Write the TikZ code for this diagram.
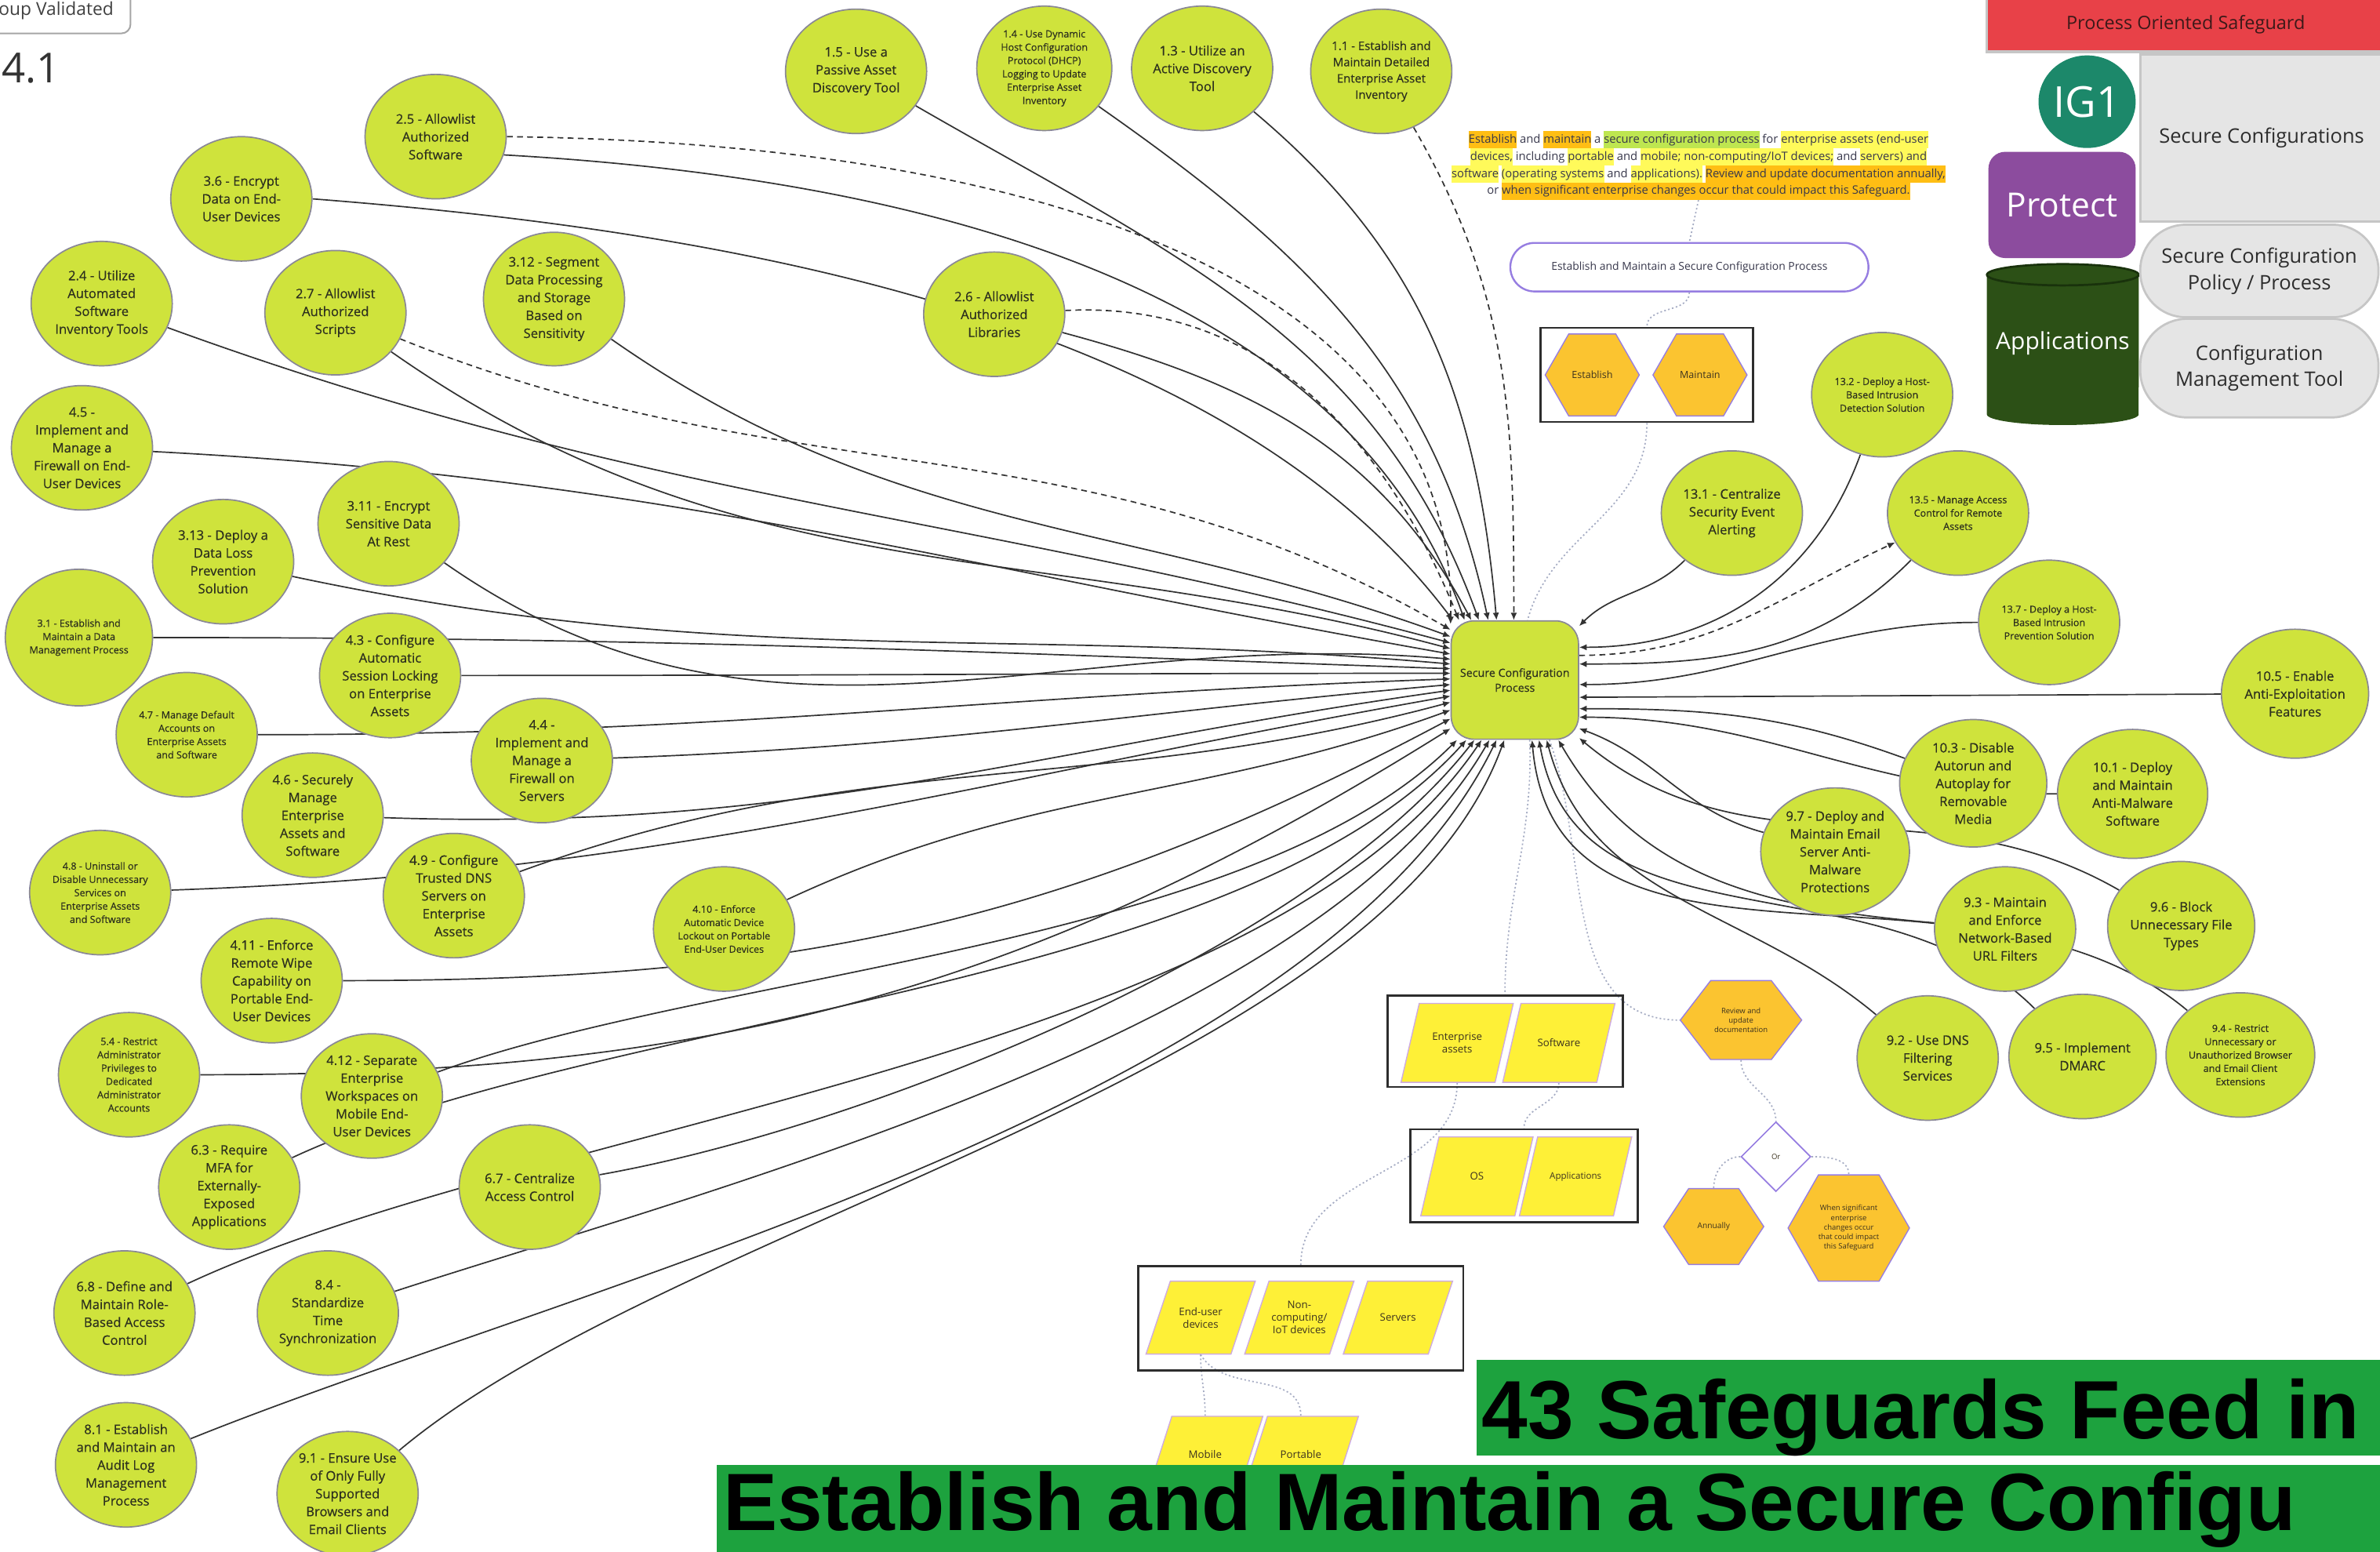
\documentclass[tikz,border=0pt]{standalone}
\usepackage{fontspec}
\setmainfont{Open Sans}
\newfontfamily\sgfont{Open Sans}[FakeBold=0.45]
\newfontfamily\bannerfont{Liberation Sans}
\usetikzlibrary{shapes.geometric,arrows.meta}
\pgfdeclarelayer{bg}
\pgfsetlayers{bg,main}

\definecolor{sg}{RGB}{207,227,60}
\definecolor{sgborder}{RGB}{138,136,150}
\definecolor{sgtext}{RGB}{45,48,30}
\definecolor{ln}{RGB}{50,50,50}
\definecolor{hexfill}{RGB}{251,196,48}
\definecolor{hextext}{RGB}{60,50,30}
\definecolor{parafill}{RGB}{254,240,55}
\definecolor{parab}{RGB}{205,170,225}
\definecolor{lpurple}{RGB}{150,125,225}
\definecolor{dotc}{RGB}{165,172,195}
\definecolor{boxline}{RGB}{45,45,45}
\definecolor{bannergreen}{RGB}{29,162,62}
\definecolor{redbox}{RGB}{232,65,72}
\definecolor{redtext}{RGB}{60,25,25}
\definecolor{igc}{RGB}{28,136,106}
\definecolor{protc}{RGB}{140,76,158}
\definecolor{appg}{RGB}{44,80,22}
\definecolor{appdark}{RGB}{25,50,12}
\definecolor{greyfill}{RGB}{229,229,229}
\definecolor{greyline}{RGB}{198,198,198}
\definecolor{paneltext}{RGB}{45,45,45}
\definecolor{hlo}{RGB}{255,190,20}
\definecolor{hly}{RGB}{255,250,90}
\definecolor{hlg}{RGB}{190,230,80}
\definecolor{txt}{RGB}{55,55,75}

\newcommand\hO[1]{{\fboxsep=0pt\colorbox{hlo}{\strut #1}}}
\newcommand\hY[1]{{\fboxsep=0pt\colorbox{hly}{\strut #1}}}
\newcommand\hG[1]{{\fboxsep=0pt\colorbox{hlg}{\strut #1}}}
\newcommand\pfont{\fontsize{3.9}{4.7}\selectfont}

\tikzset{
  sgnode/.style={ellipse, draw=sgborder, line width=0.5pt, fill=sg, minimum width=1.86cm, minimum height=1.64cm, inner sep=-3pt, align=center, text=sgtext, font=\sgfont\fontsize{4.9}{6.7}\selectfont},
  sgsmall/.style={sgnode, font=\sgfont\fontsize{3.7}{5}\selectfont},
  sgmid/.style={sgnode, font=\sgfont\fontsize{4.4}{6.1}\selectfont},
  cpnode/.style={rectangle, rounded corners=0.3cm, draw=sgborder, line width=0.5pt, fill=sg, minimum width=1.64cm, minimum height=1.56cm, align=center, text=sgtext, font=\sgfont\fontsize{4.2}{5.6}\selectfont},
  conn/.style={draw=ln, line width=0.5pt, -{Latex[length=2.8pt,width=2.4pt]}},
  dconn/.style={conn, dash pattern=on 2.2pt off 1.6pt},
  dotl/.style={draw=dotc, line width=0.5pt, dash pattern=on 0.6pt off 0.9pt},
  hexsty/.style={fill=hexfill, draw=lpurple, line width=0.4pt},
  parasty/.style={fill=parafill, draw=parab, line width=0.4pt},
  grpbox/.style={rectangle, draw=boxline, line width=0.8pt, inner sep=0pt},
  greypanel/.style={fill=greyfill, draw=greyline, line width=0.8pt, align=center, text=paneltext, font=\fontsize{7.5}{9.9}\selectfont}
}

\newcommand\hexnode[7]{%
  \draw[hexsty] (#2-#4,#3) -- (#2-#4/2,#3-#5) -- (#2+#4/2,#3-#5) -- (#2+#4,#3) -- (#2+#4/2,#3+#5) -- (#2-#4/2,#3+#5) -- cycle;
  \node[inner sep=0pt, minimum width=#4*0.04cm, minimum height=#5*0.04cm, align=center, text=hextext, font=#6] (#1) at (#2,#3) {#7};}
\newcommand\paranode[8]{%
  \draw[parasty] (#2-#4+#6,#3-#5) -- (#2+#4+#6,#3-#5) -- (#2+#4-#6,#3+#5) -- (#2-#4-#6,#3+#5) -- cycle;
  \node[inner sep=0pt, minimum width=#4*0.04cm, minimum height=#5*0.04cm, align=center, text=hextext, font=#7] (#1) at (#2,#3) {#8};}

\begin{document}
\begin{tikzpicture}[x=0.02cm,y=-0.02cm]
\useasboundingbox (0,0) rectangle (1568,1022);
\clip (0,0) rectangle (1568,1022);
\begin{pgfonlayer}{bg}
\fill[white] (0,0) rectangle (1568,1022);
\end{pgfonlayer}

% header
\node[rectangle, rounded corners=0.12cm, draw=gray!70, line width=0.6pt, fill=white, minimum width=1.96cm, minimum height=0.6cm, font=\fontsize{6.7}{8}\selectfont, text=black!75] (grp) at (37,7) {oup Validated};
\node[font=\fontsize{15.5}{16}\selectfont, text=black!80, anchor=west, inner sep=0pt] (num) at (1,45) {4.1};

% central node
\node[cpnode] (cp) at (998,448) {Secure Configuration\\Process};

% safeguards (left / top)
\node[sgnode] (s15) at (564,47) {1.5 - Use a\\Passive Asset\\Discovery Tool};
\node[sgsmall, minimum width=1.78cm] (s14) at (688,45) {1.4 - Use Dynamic\\Host Configuration\\Protocol (DHCP)\\Logging to Update\\Enterprise Asset\\Inventory};
\node[sgnode] (s13) at (792,45) {1.3 - Utilize an\\Active Discovery\\Tool};
\node[sgmid] (s11) at (910,47) {1.1 - Establish and\\Maintain Detailed\\Enterprise Asset\\Inventory};
\node[sgnode] (s25) at (287,90) {2.5 - Allowlist\\Authorized\\Software};
\node[sgnode] (s36) at (159,131) {3.6 - Encrypt\\Data on End-\\User Devices};
\node[sgnode] (s24) at (67,200) {2.4 - Utilize\\Automated\\Software\\Inventory Tools};
\node[sgnode] (s27) at (221,206) {2.7 - Allowlist\\Authorized\\Scripts};
\node[sgnode, minimum height=1.76cm] (s312) at (365,197) {3.12 - Segment\\Data Processing\\and Storage\\Based on\\Sensitivity};
\node[sgnode] (s26) at (655,207) {2.6 - Allowlist\\Authorized\\Libraries};
\node[sgnode] (s45) at (54,295) {4.5 -\\Implement and\\Manage a\\Firewall on End-\\User Devices};
\node[sgnode] (s311) at (256,345) {3.11 - Encrypt\\Sensitive Data\\At Rest};
\node[sgnode] (s313) at (147,370) {3.13 - Deploy a\\Data Loss\\Prevention\\Solution};
\node[sgsmall, minimum width=1.94cm, minimum height=1.8cm] (s31) at (52,420) {3.1 - Establish and\\Maintain a Data\\Management Process};
\node[sgnode] (s43) at (257,445) {4.3 -  Configure\\Automatic\\Session Locking\\on Enterprise\\Assets};
\node[sgsmall] (s47) at (123,484) {4.7 -  Manage Default\\Accounts on\\Enterprise Assets\\and Software};
\node[sgnode] (s44) at (357,501) {4.4 -\\Implement and\\Manage a\\Firewall on\\Servers};
\node[sgnode] (s46) at (206,537) {4.6 -  Securely\\Manage\\Enterprise\\Assets and\\Software};
\node[sgsmall] (s48) at (66,588) {4.8 -  Uninstall or\\Disable Unnecessary\\Services on\\Enterprise Assets\\and Software};
\node[sgnode] (s49) at (299,590) {4.9 -  Configure\\Trusted DNS\\Servers on\\Enterprise\\Assets};
\node[sgsmall] (s410) at (477,612) {4.10 -  Enforce\\Automatic Device\\Lockout on Portable\\End-User Devices};
\node[sgnode] (s411) at (179,646) {4.11 -  Enforce\\Remote Wipe\\Capability on\\Portable End-\\User Devices};
\node[sgsmall] (s54) at (85,708) {5.4 - Restrict\\Administrator\\Privileges to\\Dedicated\\Administrator\\Accounts};
\node[sgnode] (s412) at (245,722) {4.12 -  Separate\\Enterprise\\Workspaces on\\Mobile End-\\User Devices};
\node[sgnode] (s63) at (151,782) {6.3 - Require\\MFA for\\Externally-\\Exposed\\Applications};
\node[sgnode] (s67) at (349,782) {6.7 - Centralize\\Access Control};
\node[sgnode] (s68) at (82,865) {6.8 - Define and\\Maintain Role-\\Based Access\\Control};
\node[sgnode] (s84) at (216,865) {8.4 -\\Standardize\\Time\\Synchronization};
\node[sgnode] (s81) at (83,965) {8.1 - Establish\\and Maintain an\\Audit Log\\Management\\Process};
\node[sgnode] (s91) at (229,984) {9.1 - Ensure Use\\of Only Fully\\Supported\\Browsers and\\Email Clients};

% safeguards (right)
\node[sgsmall] (s132) at (1240,260) {13.2 - Deploy a Host-\\Based Intrusion\\Detection Solution};
\node[sgnode] (s131) at (1141,338) {13.1 - Centralize\\Security Event\\Alerting};
\node[sgsmall] (s135) at (1290,338) {13.5 - Manage Access\\Control for Remote\\Assets};
\node[sgsmall] (s137) at (1350,410) {13.7 - Deploy a Host-\\Based Intrusion\\Prevention Solution};
\node[sgnode, minimum width=1.94cm, minimum height=1.7cm] (s105) at (1512,457) {10.5 - Enable\\Anti-Exploitation\\Features};
\node[sgnode, minimum width=1.94cm, minimum height=1.68cm] (s103) at (1300,516) {10.3 - Disable\\Autorun and\\Autoplay for\\Removable\\Media};
\node[sgnode, minimum width=1.98cm, minimum height=1.7cm] (s101) at (1405,523) {10.1 - Deploy\\and Maintain\\Anti-Malware\\Software};
\node[sgnode, minimum width=1.96cm, minimum height=1.68cm] (s97) at (1209,561) {9.7 - Deploy and\\Maintain Email\\Server Anti-\\Malware\\Protections};
\node[sgnode] (s93) at (1321,612) {9.3 - Maintain\\and Enforce\\Network-Based\\URL Filters};
\node[sgnode, minimum width=1.94cm, minimum height=1.7cm] (s96) at (1437,610) {9.6 - Block\\Unnecessary File\\Types};
\node[sgnode] (s92) at (1270,697) {9.2 - Use DNS\\Filtering\\Services};
\node[sgnode, minimum width=1.94cm] (s95) at (1372,696) {9.5 - Implement\\DMARC};
\node[sgsmall, minimum width=1.96cm] (s94) at (1476,695) {9.4 - Restrict\\Unnecessary or\\Unauthorized Browser\\and Email Client\\Extensions};

% definition text and process boxes
\node[font=\fontsize{4.35}{6.4}\selectfont, text=txt, align=center, inner sep=0pt] (deftext) at (1119,109) {\hO{Establish} and \hO{maintain} a \hG{secure configuration process} for \hY{enterprise assets (end-user}\\ \hY{devices,} including \hY{portable} and \hY{mobile; non-computing/IoT devices;} and \hY{servers) and}\\ \hY{software} \hY{(operating systems} and \hY{applications).} \hO{Review and update documentation annually,}\\ or \hO{when significant enterprise changes occur that could impact this Safeguard.}};
\node[rectangle, rounded corners=0.32cm, draw=lpurple, line width=0.7pt, fill=white, minimum width=4.72cm, minimum height=0.64cm, font=\fontsize{4.1}{5}\selectfont, text=txt] (stad) at (1113,176) {Establish and Maintain a Secure Configuration Process};
\node[grpbox, minimum width=2.8cm, minimum height=1.24cm] (hexbox) at (1085,247) {};
\hexnode{hexE}{1049}{247}{31}{27}{\fontsize{3.7}{4.5}\selectfont}{Establish}
\hexnode{hexM}{1120}{247}{31}{27}{\fontsize{3.7}{4.5}\selectfont}{Maintain}

% asset boxes
\node[grpbox, minimum width=3.1cm, minimum height=1.2cm] (b1) at (991.5,686) {};
\node[grpbox, minimum width=3.0cm, minimum height=1.22cm] (b2) at (1004,774.5) {};
\node[grpbox, minimum width=4.28cm, minimum height=1.38cm] (b3) at (857,868.5) {};
\paranode{ea}{960}{687}{31}{26}{6}{\pfont}{Enterprise\\assets}
\paranode{sw}{1027}{687}{31}{26}{6}{\pfont}{Software}
\paranode{os}{973}{775}{31}{26}{6}{\pfont}{OS}
\paranode{appl}{1038}{775}{31}{26}{6}{\fontsize{3.4}{4}\selectfont}{Applications}
\paranode{eud}{791}{868}{28}{24}{8}{\pfont}{End-user\\devices}
\paranode{nci}{856}{868}{28}{24}{8}{\pfont}{Non-\\computing/\\IoT devices}
\paranode{srv}{921}{868}{28}{24}{8}{\pfont}{Servers}
\paranode{mob}{794}{958}{30}{25}{8}{\pfont}{Mobile}
\paranode{port}{857}{958}{30}{25}{8}{\pfont}{Portable}

% review logic
\hexnode{rev}{1147}{672}{40}{26}{\fontsize{2.8}{3.6}\selectfont}{Review and\\update\\documentation}
\node[diamond, draw=lpurple, line width=0.5pt, fill=white, minimum width=0.92cm, minimum height=0.92cm, inner sep=0pt, text=hextext, font=\fontsize{2.8}{3}\selectfont] (ornode) at (1170,762) {Or};
\hexnode{ann}{1129}{808}{33}{25}{\fontsize{3}{3.6}\selectfont}{Annually}
\hexnode{when}{1218}{809}{40}{35}{\fontsize{2.8}{3.6}\selectfont}{When significant\\enterprise\\changes occur\\that could impact\\this Safeguard}

% right panel
\node[rectangle, fill=redbox, draw=greyline, line width=1pt, minimum width=5.24cm, minimum height=0.72cm, inner sep=0pt, font=\fontsize{6.9}{8}\selectfont, text=redtext] (pos) at (1440,16) {Process Oriented Safeguard};
\node[ellipse, fill=igc, minimum width=1.28cm, minimum height=1.22cm, inner sep=0pt, text=white, font=\fontsize{16}{16}\selectfont] (ig1) at (1375,67) {IG1};
\node[greypanel, rectangle, minimum width=3.2cm, minimum height=2.2cm] (scfg) at (1490,91) {Secure Configurations};
\node[rectangle, rounded corners=0.22cm, fill=protc, minimum width=1.94cm, minimum height=1.4cm, inner sep=0pt, text=white, font=\fontsize{12.5}{13}\selectfont] (prot) at (1358.5,135) {Protect};
\fill[appg] (1309,181) -- (1309,273) arc[start angle=180,end angle=360,x radius=1cm,y radius=0.14cm] -- (1409,181) arc[start angle=0,end angle=180,x radius=1cm,y radius=0.14cm] -- cycle;
\draw[appdark, line width=0.8pt] (1359,181) ellipse [x radius=1cm, y radius=0.14cm];
\node[text=white, inner sep=0pt, font=\fontsize{8.8}{10}\selectfont] (apps) at (1359,226) {Applications};
\node[greypanel, rectangle, rounded corners=0.6cm, minimum width=3.14cm, minimum height=1.22cm] (scpp) at (1488.5,178.5) {Secure Configuration\\Policy / Process};
\node[greypanel, rectangle, rounded corners=0.62cm, minimum width=3.14cm, minimum height=1.3cm] (cmt) at (1488.5,242.5) {Configuration\\Management Tool};

% connectors
\begin{pgfonlayer}{bg}
% dotted relations
\draw[dotl] (deftext.south) -- (stad.north);
\draw[dotl] (stad.south) to[out=-90,in=90] (hexbox.north);
\draw[dotl] (hexbox.south) to[out=-90,in=75] (cp.78);
\draw[dotl] (cp.284) to[out=-88,in=90] (b1.north);
\draw[dotl] (cp.300) to[out=-70,in=180] (rev.west);
\draw[dotl] (rev.south) to[out=-90,in=90] (ornode.north);
\draw[dotl] (ornode.west) to[out=180,in=90] (ann.north);
\draw[dotl] (ornode.east) to[out=0,in=90] (when.north);
\draw[dotl] (ea.south) to[out=-90,in=90] (b3.north);
\draw[dotl] (sw.south) to[out=-90,in=90] (b2.north);
\draw[dotl] (eud.south) to[out=-90,in=90] (mob.north);
\draw[dotl] (eud.south) to[out=-60,in=90] (port.north);
% top and upper left
\draw[dconn] (s11) to[out=-60,in=90] (cp.91);
\draw[conn] (s13) to[out=-40,in=95] (cp.107);
\draw[conn] (s14) to[out=-35,in=102] (cp.114);
\draw[conn] (s15) to[out=-30,in=110] (cp.121);
\draw[conn] (s26) to[out=-15,in=118] (cp.126);
\draw[conn] (s25.-15) .. controls (560,115) and (880,170) .. (cp.130);
\draw[dconn] (s26) to[out=3,in=112] (cp.133);
\draw[conn] (s36.east) .. controls (450,150) and (800,200) .. (cp.136);
\draw[dconn] (s25.east) .. controls (720,95) and (960,200) .. (cp.139);
\draw[dconn] (s27) to[out=-22,in=150] (cp.142);
% left side
\draw[conn] (s312) to[out=-35,in=160] (cp.146);
\draw[conn] (s24) to[out=-20,in=165] (cp.150);
\draw[conn] (s27) to[out=-35,in=165] (cp.154);
\draw[conn] (s45) to[out=-3,in=170] (cp.158);
\draw[conn] (s311) to[out=-35,in=175] (cp.162);
\draw[conn] (s313) to[out=-12,in=175] (cp.166);
\draw[conn] (s31) to[out=0,in=178] (cp.170);
\draw[conn] (s43) to[out=0,in=180] (cp.174);
\draw[conn] (s47) to[out=0,in=182] (cp.179);
\draw[conn] (s44) to[out=2,in=185] (cp.184);
\draw[conn] (s46) to[out=-2,in=188] (cp.189);
\draw[conn] (s48) to[out=2,in=190] (cp.194);
\draw[conn] (s49) to[out=20,in=195] (cp.199);
\draw[conn] (s410) to[out=25,in=200] (cp.205);
\draw[conn] (s411) to[out=0,in=208] (cp.211);
\draw[conn] (s54) to[out=0,in=212] (cp.217);
% lower left, entering from below
\draw[conn] (s412) to[out=20,in=225,looseness=0.7] (cp.226);
\draw[conn] (s63) to[out=25,in=228,looseness=0.7] (cp.231);
\draw[conn] (s67) to[out=10,in=232,looseness=0.7] (cp.236);
\draw[conn] (s68) to[out=25,in=236,looseness=0.7] (cp.241);
\draw[conn] (s84) to[out=18,in=240,looseness=0.7] (cp.247);
\draw[conn] (s81) to[out=22,in=244,looseness=0.7] (cp.253);
\draw[conn] (s91) to[out=40,in=250,looseness=0.7] (cp.260);
% right side
\draw[conn] (s131) to[out=225,in=45] (cp.40);
\draw[conn] (s132) to[out=250,in=0] (cp.27);
\draw[dconn] (cp.21) to[out=0,in=205] (s135);
\draw[conn] (s135) to[out=225,in=0] (cp.14);
\draw[conn] (s137) to[out=180,in=0] (cp.-4);
\draw[conn] (s105) -- (cp.-15);
\draw[conn] (s103) to[out=160,in=0] (cp.-24);
\draw[conn] (s101) to[out=180,in=0] (cp.-30);
\draw[conn] (s97) to[out=165,in=-20] (cp.-37);
\draw[conn] (s96) to[out=150,in=-40] (cp.-42);
\draw[conn] (s93) to[out=175,in=-60] (cp.306);
\draw[conn] (s92) to[out=140,in=-75] (cp.298);
\draw[conn] (s95) to[out=135,in=-80] (cp.292);
\draw[conn] (s94) to[out=140,in=-85] (cp.286);
\end{pgfonlayer}

% banners
\fill[bannergreen] (973,896) rectangle (1572,959);
\node[anchor=base west, inner sep=0pt, font=\bannerfont\bfseries\fontsize{31}{33}\selectfont] (ban1) at (976,948) {43 Safeguards Feed in};
\fill[bannergreen] (472,965) rectangle (1572,1026);
\node[anchor=base west, inner sep=0pt, font=\bannerfont\bfseries\fontsize{30.5}{32}\selectfont] (ban2) at (476,1008) {Establish and Maintain a Secure Configu};
\end{tikzpicture}
\end{document}
